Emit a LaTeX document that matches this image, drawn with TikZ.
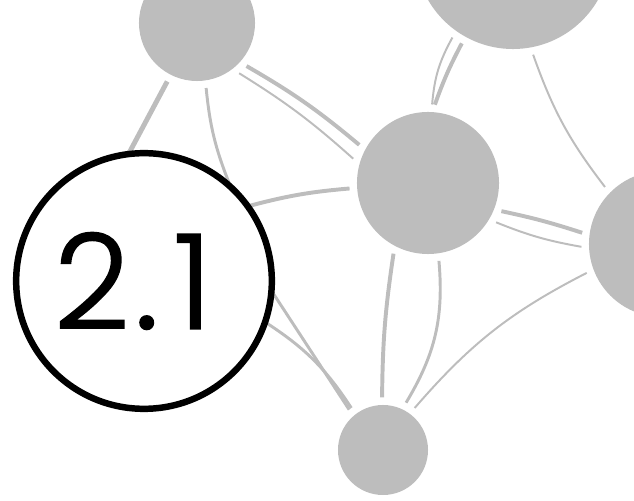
\documentclass[tikz,border=0pt]{standalone}
\usepackage{fontspec}
\newfontfamily\chapfont{Poppins Light}[FakeBold=1.2]
\usepackage{tikz}

\definecolor{netgray}{HTML}{BDBDBD}

\tikzset{
  blob/.style={circle, fill=netgray, draw=none, inner sep=0pt, outer sep=0.19cm},
  xline/.style={draw=netgray, line width=3.5pt},
  wline/.style={draw=netgray, line width=2.8pt},
  mline/.style={draw=netgray, line width=2.1pt},
  sline/.style={draw=netgray, line width=1.4pt},
  chapter/.style={circle, draw=black, fill=white, line width=4.6pt, minimum size=6.39cm,
    inner sep=0pt, font=\chapfont\fontsize{94}{94}\selectfont},
}

\begin{document}
\begin{tikzpicture}[x=0.025cm, y=0.025cm]
  \useasboundingbox (0,0) rectangle (634,501);
  \clip (0,0) rectangle (634,501);

  \foreach \name/\x/\y/\d in {
    A/197/478/2.9,
    B/513/550/4.9,
    C/428/318/3.55,
    D/662/257/3.65,
    E/383/51/2.25
  }{
    \node[blob, minimum size=\d cm] (\name) at (\x,\y) {};
  }

  % ends hidden under the number
  \coordinate (H1) at (128,346);
  \coordinate (H2) at (229.5,317);
  \coordinate (H3) at (271,211);
  \coordinate (H4) at (265,179);
  \coordinate (H5) at (249,295);

  \draw[xline] (A.-117) -- (H1);
  \draw[mline] (A.-82) to[bend right=8] (H2);
  \draw[wline] (A.-41) to[bend left=5] (C.151);
  \draw[sline] (A.-50) to[bend left=5] (C.162);
  \draw[wline] (C.184) to[bend right=5] (H5);
  \draw[wline] (C.85) to[bend left=4] (B.-119);
  \draw[sline] (C.87) to[bend left=12] (B.-125);
  \draw[sline] (B.-79) to[bend right=9] (D.135);
  \draw[wline] (C.-21) to[bend left=3] (D.172);
  \draw[sline] (C.-30) to[bend right=6] (D.182);
  \draw[wline] (C.-116) to[bend right=4] (E.91);
  \draw[mline] (C.-82) to[bend left=18] (E.64);
  \draw[sline] (D.201) to[bend right=11] (E.53);
  \draw[mline] (H3) -- (E.130);
  \draw[mline] (H4) to[bend left=12] (E.127);

  \node[chapter] (chap) at (144,220) {2\kern3.6pt.\kern10.5pt1\kern15.6pt};
\end{tikzpicture}
\end{document}
